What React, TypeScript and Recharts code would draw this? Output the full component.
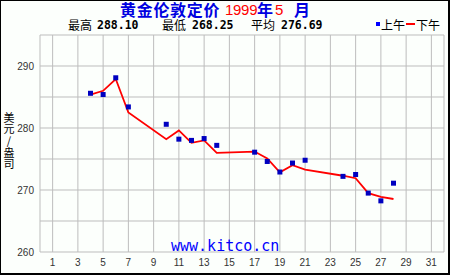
import React from 'react';
import { ComposedChart, Line, Scatter, XAxis, YAxis, CartesianGrid } from 'recharts';

const days = [4, 5, 6, 7, 10, 11, 12, 13, 14, 17, 18, 19, 20, 21, 24, 25, 26, 27, 28];
const amFix = [285.6, 285.4, 288.1, 283.4, 280.6, 278.2, 278.0, 278.3, 277.2, 276.1, 274.6, 272.9, 274.35, 274.8, 272.2, 272.5, 269.5, 268.25, 271.1];
const pmFix = [285.4, 286.0, 287.9, 282.5, 278.2, 279.6, 277.6, 278.0, 276.0, 276.2, 275.1, 272.85, 274.0, 273.3, 272.3, 271.9, 269.5, 268.9, 268.55];
const xTicks = [0, 1, 3, 5, 7, 9, 11, 13, 15, 17, 19, 21, 23, 25, 27, 29, 31, 32];
const yTicks = [260, 265, 270, 275, 280, 285, 290, 295];
const yLabel = '美元/盎司';

const data = days.map((d, i) => ({ day: d, am: amFix[i], pm: pmFix[i] }));

const Square = (props: any) => {
  const { cx, cy } = props;
  if (cx == null || cy == null) return null;
  return <rect x={cx - 2.5} y={cy - 2.5} width={5} height={5} fill="#0000c0" />;
};

const cjk = '"Noto Sans CJK SC", sans-serif';
const mono = '"DejaVu Sans Mono", monospace';
const sans = '"Liberation Sans", Arial, sans-serif';

const T = (props: { left: number; top: number; children: any; style?: any }) => (
  <div style={{ position: 'absolute', left: props.left, top: props.top, whiteSpace: 'nowrap', ...props.style }}>{props.children}</div>
);

export default function App() {
  const titleBase = { fontSize: 16, fontWeight: 'bold', fontFamily: cjk, color: '#0000e0', lineHeight: '17px', height: 17 };
  const titleNum = { fontSize: 15, fontFamily: sans, color: '#ff0000', lineHeight: '17px', height: 17 };
  const sub = { fontSize: 12, fontFamily: cjk, color: '#000', lineHeight: '14px', height: 14 };
  const subNum = { fontSize: 11.5, fontFamily: mono, fontWeight: 'bold', color: '#000', lineHeight: '14px', height: 14 };
  return (
    <div style={{ position: 'absolute', left: 0, top: 0, width: 450, height: 275, background: '#fcfffc', overflow: 'hidden' }}>
      <div style={{ position: 'absolute', left: 0, top: 0, width: 447, height: 272, borderLeft: '1px solid #000', borderTop: '1px solid #000', borderRight: '2px solid #000', borderBottom: '2px solid #000', boxSizing: 'content-box' }} />
      <div style={{ position: 'absolute', left: 0, top: 0 }}>
        <ComposedChart width={450} height={275} data={data} margin={{ top: 35, right: 6, bottom: 0, left: 0 }}>
          <CartesianGrid stroke="#bdbdbd" strokeWidth={1} />
          <XAxis
            type="number"
            dataKey="day"
            domain={[0, 32]}
            ticks={xTicks}
            interval={0}
            height={23}
            tickSize={0}
            tickMargin={7}
            axisLine={false}
            tickFormatter={(v: number) => (v === 0 || v === 32 ? '' : String(v))}
            tick={{ fontSize: 10, fill: '#333', fontFamily: sans }}
          />
          <YAxis
            type="number"
            domain={[260, 295]}
            ticks={yTicks}
            interval={0}
            width={40}
            tickSize={0}
            tickMargin={6}
            axisLine={false}
            tickFormatter={(v: number) => (v % 10 === 0 && v < 295 ? String(v) : '')}
            tick={{ fontSize: 10, fill: '#333', fontFamily: sans }}
          />
          <Line type="linear" dataKey="pm" stroke="#ff0000" strokeWidth={1.8} dot={false} isAnimationActive={false} />
          <Scatter dataKey="am" shape={Square} isAnimationActive={false} />
        </ComposedChart>
      </div>
      <T left={120} top={1} style={{ ...titleBase, letterSpacing: 0.7 }}>黄金伦敦定价</T>
      <T left={225} top={1} style={{ ...titleNum, letterSpacing: -0.3 }}>1999</T>
      <T left={257} top={1} style={titleBase}>年</T>
      <T left={275} top={1} style={titleNum}>5</T>
      <T left={294} top={1} style={titleBase}>月</T>

      <T left={68} top={18} style={sub}>最高</T>
      <T left={97} top={18} style={subNum}>288.10</T>
      <T left={162} top={18} style={sub}>最低</T>
      <T left={192} top={18} style={subNum}>268.25</T>
      <T left={251} top={18} style={sub}>平均</T>
      <T left={281} top={18} style={subNum}>276.69</T>

      <div style={{ position: 'absolute', left: 376, top: 22, width: 4, height: 4, background: '#0000ff' }} />
      <T left={381} top={18} style={sub}>上午</T>
      <div style={{ position: 'absolute', left: 406, top: 23, width: 9, height: 2, background: '#ff0000' }} />
      <T left={416} top={18} style={sub}>下午</T>

      <div style={{ position: 'absolute', left: 2, top: 112, width: 13, height: 60, fontSize: 11, lineHeight: '13px', letterSpacing: 0.7, fontFamily: cjk, color: '#000', writingMode: 'vertical-rl', textOrientation: 'upright', whiteSpace: 'nowrap' }}>
        {yLabel}
      </div>
      <T left={171} top={238} style={{ fontSize: 15, fontFamily: mono, color: '#0000ff', lineHeight: '16px', height: 16 }}>www.kitco.cn</T>
    </div>
  );
}
